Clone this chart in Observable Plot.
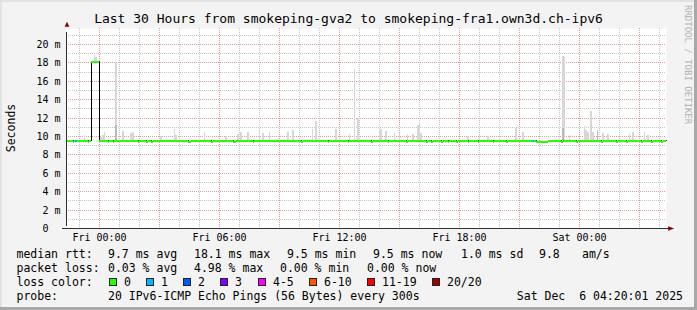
<!DOCTYPE html>
<html><head><meta charset="utf-8">
<script src="https://cdn.jsdelivr.net/npm/d3@7"></script>
<script src="https://cdn.jsdelivr.net/npm/@observablehq/plot@0.6"></script>
<style>
html,body{margin:0;padding:0;background:#f3f3f3;}
#chart{position:relative;width:697px;height:310px;background:#f3f3f3;overflow:hidden;font-family:"DejaVu Sans Mono",monospace;color:#000;}
.abs{position:absolute;white-space:pre;}
.leg{font-size:11.5px;line-height:14px;}
</style></head><body>
<div id="chart"></div>
<script>
// ---------- data ----------
const title = "Last 30 Hours from smokeping-gva2 to smokeping-fra1.own3d.ch-ipv6";
const yLabel = "Seconds";
const watermark = "RRDTOOL / TOBI OETIKER";
const rangeStart = "Thu 22:20";
const rangeEnd = "Sat 04:20";
const yMax = 21.74;
const yTicks = [0, 2, 4, 6, 8, 10, 12, 14, 16, 18, 20];
const xLabelTimes = ["Fri 00:00", "Fri 06:00", "Fri 12:00", "Fri 18:00", "Sat 00:00"];

// median RTT (ms) change points: [time, value]
const median = [
  ["Thu 22:20", 9.6], ["Thu 22:40", 9.5], ["Thu 22:45", 9.6], ["Thu 23:25", 9.5], ["Thu 23:30", 9.6],
  ["Thu 23:35", 18.1], ["Fri 00:00", 9.6], ["Fri 00:25", 9.5], ["Fri 00:30", 9.6], ["Fri 00:40", 9.5],
  ["Fri 00:45", 9.6], ["Fri 01:55", 9.5], ["Fri 02:00", 9.6], ["Fri 02:20", 9.5], ["Fri 02:25", 9.6],
  ["Fri 02:35", 9.5], ["Fri 02:40", 9.6], ["Fri 04:25", 9.5], ["Fri 04:35", 9.6], ["Fri 05:35", 9.5],
  ["Fri 05:40", 9.6], ["Fri 06:40", 9.5], ["Fri 06:50", 9.6], ["Fri 07:40", 9.5], ["Fri 07:45", 9.6],
  ["Fri 10:05", 9.5], ["Fri 10:10", 9.6], ["Fri 11:25", 9.5], ["Fri 11:30", 9.6], ["Fri 12:25", 9.5],
  ["Fri 12:30", 9.6], ["Fri 13:35", 9.5], ["Fri 13:40", 9.6], ["Fri 14:25", 9.5], ["Fri 14:30", 9.6],
  ["Fri 15:20", 9.5], ["Fri 15:25", 9.6], ["Fri 16:20", 9.5], ["Fri 16:25", 9.6], ["Fri 16:35", 9.5],
  ["Fri 16:40", 9.6], ["Fri 17:05", 9.5], ["Fri 17:10", 9.6], ["Fri 17:25", 9.5], ["Fri 17:30", 9.6],
  ["Fri 17:50", 9.5], ["Fri 17:55", 9.6], ["Fri 18:25", 9.5], ["Fri 18:30", 9.6], ["Fri 18:55", 9.5],
  ["Fri 19:00", 9.6], ["Fri 19:40", 9.5], ["Fri 19:45", 9.6], ["Fri 20:20", 9.5], ["Fri 20:25", 9.6],
  ["Fri 21:50", 9.5], ["Fri 22:25", 9.6], ["Fri 23:05", 9.5], ["Fri 23:10", 9.6], ["Fri 23:50", 9.5],
  ["Fri 23:55", 9.6], ["Sat 01:05", 9.5], ["Sat 01:10", 9.6], ["Sat 01:50", 9.5], ["Sat 01:55", 9.6],
  ["Sat 02:20", 9.5], ["Sat 02:25", 9.6], ["Sat 03:05", 9.5], ["Sat 03:10", 9.6], ["Sat 03:35", 9.5],
  ["Sat 03:40", 9.6], ["Sat 04:05", 9.5], ["Sat 04:10", 9.6]
];

// slots with packet loss: [time, loss bucket index]
const lossSlots = [["Thu 22:50", 1], ["Fri 21:40", 1]];

// smoke (ping spread, ms): [time, low, high, dense-high]
const smoke = [
  ["Thu 23:15", 9.6, 10.1], ["Thu 23:45", 18.1, 18.8], ["Thu 23:50", 18.1, 18.6],
  ["Fri 00:05", 9.6, 9.9], ["Fri 00:10", 9.6, 10.1], ["Fri 00:15", 9.6, 10.4],
  ["Fri 00:50", 9.6, 18.0, 11.2], ["Fri 01:10", 9.6, 10.5], ["Fri 01:35", 9.6, 10.3],
  ["Fri 01:40", 9.6, 10.4], ["Fri 03:05", 9.6, 10.0], ["Fri 03:45", 9.6, 10.8],
  ["Fri 03:50", 9.6, 10.1], ["Fri 05:15", 9.6, 10.4], ["Fri 06:20", 9.6, 10.0],
  ["Fri 06:55", 9.6, 10.2], ["Fri 07:05", 9.6, 10.4], ["Fri 07:25", 9.6, 10.4],
  ["Fri 08:00", 9.6, 10.5], ["Fri 08:10", 9.6, 10.3], ["Fri 08:30", 9.6, 10.4],
  ["Fri 09:25", 9.6, 10.4], ["Fri 09:40", 9.6, 10.6], ["Fri 10:40", 9.6, 10.8],
  ["Fri 10:50", 9.6, 11.6], ["Fri 11:50", 9.6, 10.8], ["Fri 12:30", 9.6, 10.2],
  ["Fri 12:45", 9.6, 17.3], ["Fri 12:55", 9.6, 12.0], ["Fri 14:00", 9.6, 10.7],
  ["Fri 14:05", 9.6, 10.8], ["Fri 14:20", 9.6, 10.5], ["Fri 14:45", 9.6, 10.3],
  ["Fri 15:00", 9.6, 10.3], ["Fri 15:25", 9.6, 10.2], ["Fri 15:40", 9.6, 10.2],
  ["Fri 15:55", 9.6, 11.2], ["Fri 16:00", 9.6, 11.4], ["Fri 16:05", 9.6, 10.3],
  ["Fri 18:25", 9.6, 10.0], ["Fri 19:00", 9.6, 10.1], ["Fri 19:25", 9.6, 10.0],
  ["Fri 20:50", 9.6, 10.9], ["Fri 21:10", 9.6, 10.4], ["Fri 23:10", 9.6, 18.7, 10.9],
  ["Fri 23:15", 9.6, 18.6], ["Fri 23:30", 9.6, 10.1], ["Sat 00:15", 9.6, 11.1],
  ["Sat 00:20", 9.6, 10.6], ["Sat 00:25", 9.6, 10.4], ["Sat 00:35", 9.6, 12.7],
  ["Sat 00:40", 9.6, 10.4], ["Sat 00:55", 9.6, 10.7, 10.5], ["Sat 01:10", 9.6, 10.3],
  ["Sat 01:25", 9.6, 10.2], ["Sat 02:30", 9.6, 10.2], ["Sat 02:40", 9.6, 10.4],
  ["Sat 03:15", 9.6, 10.4], ["Sat 03:25", 9.6, 10.1]
];

const lossLabels = ["0", "1", "2", "3", "4-5", "6-10", "11-19", "20/20"];
const lossColors = ["#26ff00", "#00b8ff", "#0059ff", "#7e00ff", "#ff00ff", "#ff5500", "#ff0000", "#a10000"];
const rowLabels = ["median rtt:", "packet loss:", "loss color:", "probe:"];
const rttStats = ["9.7 ms avg", "18.1 ms max", "9.5 ms min", "9.5 ms now", "1.0 ms sd", "9.8", "am/s"];
const lossStats = ["0.03 % avg", "4.98 % max", "0.00 % min", "0.00 % now"];
const probeText = "20 IPv6-ICMP Echo Pings (56 Bytes) every 300s";
const stamp = "Sat Dec  6 04:20:01 2025";

// ---------- helpers ----------
const dayIdx = {Thu: 4, Fri: 5, Sat: 6};
function T(s) {
  const [d, hm] = s.split(" ");
  const [h, m] = hm.split(":").map(Number);
  return new Date(Date.UTC(2025, 11, dayIdx[d], h, m));
}
const HALF = 150000; // half a 5-minute slot

const x0 = T(rangeStart), x1 = T(rangeEnd);
const hours = d3.utcHour.range(x0, x1);
const majorHours = hours.filter(d => d.getUTCHours() % 3 === 0);
const minorHours = hours.filter(d => d.getUTCHours() % 3 !== 0);
const yAll = d3.range(1, Math.floor(yMax) + 1);
const yMajor = yAll.filter(v => v % 2 === 0);
const yMinor = yAll.filter(v => v % 2 === 1);

const medPts = median.map(([t, v]) => ({t: T(t), v}));
const segs = medPts.map((d, i) => ({t0: d.t, t1: i + 1 < medPts.length ? medPts[i + 1].t : x1, v: d.v}));
const linePts = [...medPts, {t: x1, v: medPts[medPts.length - 1].v}];
const lossSegs = lossSlots.map(([t, n]) => {
  const tt = T(t);
  const s = segs.find(s => s.t0 <= tt && tt < s.t1);
  return {t0: new Date(+tt - HALF), t1: new Date(+tt + HALF), v: s.v, color: lossColors[n]};
});
const smokeRows = smoke.map(([t, lo, hi, dense]) => ({t: T(t), lo, hi, dense}));

const arrowRight = {draw(ctx, size) { const s = Math.sqrt(size) / 2; ctx.moveTo(1.4 * s, 0); ctx.lineTo(-1.3 * s, -s); ctx.lineTo(-1.3 * s, s); ctx.closePath(); }};
const arrowUp = {draw(ctx, size) { const s = Math.sqrt(size) / 2; ctx.moveTo(0, -1.2 * s); ctx.lineTo(1.1 * s, 1.0 * s); ctx.lineTo(-1.1 * s, 1.0 * s); ctx.closePath(); }};

const FONT = "DejaVu Sans Mono";
const gridGray = "#c6c6c6", gridRed = "#e69a9a";

const plot = Plot.plot({
  width: 697,
  height: 250,
  marginLeft: 66,
  marginRight: 31,
  marginTop: 28,
  marginBottom: 22,
  style: {background: "transparent", fontFamily: FONT, fontSize: "10px", overflow: "visible"},
  x: {type: "utc", domain: [x0, x1], round: true},
  y: {domain: [0, yMax], round: true},
  marks: [
    Plot.frame({fill: "white", stroke: "none"}),
    Plot.ruleX(minorHours, {stroke: gridGray, strokeDasharray: "1,1"}),
    Plot.ruleY(yMinor, {stroke: gridGray, strokeDasharray: "1,1"}),
    Plot.ruleX(majorHours, {stroke: gridRed, strokeDasharray: "1,1"}),
    Plot.ruleY(yMajor, {stroke: gridRed, strokeDasharray: "1,1"}),
    Plot.rect(smokeRows, {x1: d => new Date(+d.t - HALF), x2: d => new Date(+d.t + HALF), y1: "lo", y2: "hi", fill: "#d7d7d7"}),
    Plot.rect(smokeRows.filter(d => d.dense), {x1: d => new Date(+d.t - HALF), x2: d => new Date(+d.t + HALF), y1: "lo", y2: "dense", fill: "#b9b9b9"}),
    Plot.line(linePts, {x: "t", y: "v", curve: "step-after", stroke: "#000", strokeWidth: 1}),
    Plot.ruleY(segs, {y: "v", x1: "t0", x2: "t1", stroke: lossColors[0], strokeWidth: 2, dy: 0.5}),
    Plot.ruleY(lossSegs, {y: "v", x1: "t0", x2: "t1", stroke: "color", strokeWidth: 2, dy: 0.5}),
    Plot.ruleY([0], {x1: x0, x2: x1, stroke: "#303030", insetLeft: -4, insetRight: -3}),
    Plot.ruleX([x0], {y1: 0, y2: yMax, stroke: "#303030", insetTop: -2, insetBottom: -4}),
    Plot.dot([x1], {x: d => d, y: 0, symbol: arrowRight, r: 2.5, fill: "#900000", stroke: "none", dx: 4.5}),
    Plot.dot([x0], {x: d => d, y: yMax, symbol: arrowUp, r: 2.5, fill: "#900000", stroke: "none", dy: -4, dx: 0.5}),
    Plot.axisX(xLabelTimes.map(T), {tickSize: 0, tickPadding: 5, tickFormat: d3.utcFormat("%a %H:%M"), fontSize: 10, fontFamily: FONT, fill: "#000", label: null}),
    Plot.axisY(yTicks, {tickSize: 0, tickPadding: 6, tickFormat: d => d ? `${d} m` : "0\u00a0\u00a0", fontSize: 10, fontFamily: FONT, fill: "#000", label: null})
  ]
});

const chart = document.getElementById("chart");
const holder = document.createElement("div");
holder.className = "abs";
holder.style.left = "0px"; holder.style.top = "0px";
holder.appendChild(plot);
chart.appendChild(holder);

function addDiv(txt, cls, styles) {
  const el = document.createElement("div");
  el.className = cls;
  el.textContent = txt;
  Object.assign(el.style, styles);
  chart.appendChild(el);
  return el;
}

// title
addDiv(title, "abs", {left: "0px", width: "697px", top: "11px", textAlign: "center", fontSize: "13px", lineHeight: "15px"});
// y label
addDiv(yLabel, "abs", {left: "10.5px", top: "128px", fontSize: "11.5px", lineHeight: "14px", transform: "translate(-50%,-50%) rotate(-90deg)"});
// watermark
addDiv(watermark, "abs", {left: "682px", top: "5px", fontSize: "9px", lineHeight: "12px", writingMode: "vertical-rl", color: "#b2b2b2"});

// legend
const rowY = [254, 268, 282, 296];
const leftCol = 16.5;
rowLabels.forEach((t, i) => addDiv(t, "abs leg", {left: leftCol + "px", top: (rowY[i] - 7) + "px"}));
const rttX = [108, 194, 287, 373, 461, 539, 582];
rttStats.forEach((t, i) => addDiv(t, "abs leg", {left: rttX[i] + "px", top: (rowY[0] - 7) + "px"}));
const lossX = [108, 194, 280, 367];
lossStats.forEach((t, i) => addDiv(t, "abs leg", {left: lossX[i] + "px", top: (rowY[1] - 7) + "px"}));
const swX = [109, 146, 183, 220, 258, 309, 367, 432];
lossLabels.forEach((t, i) => {
  addDiv("", "abs", {left: swX[i] + "px", top: (rowY[2] - 4) + "px", width: "8px", height: "8px", boxSizing: "border-box", border: "1px solid #222", background: lossColors[i]});
  addDiv(t, "abs leg", {left: (swX[i] + 15) + "px", top: (rowY[2] - 7) + "px"});
});
addDiv(probeText, "abs leg", {left: "108px", top: (rowY[3] - 7) + "px"});
addDiv(stamp, "abs leg", {right: (697 - 683) + "px", top: (rowY[3] - 7) + "px"});

// 3D border shading
addDiv("", "abs", {left: "0px", top: "0px", width: "697px", height: "2px", background: "#e2e2e2"});
addDiv("", "abs", {left: "0px", top: "0px", width: "2px", height: "310px", background: "#e2e2e2"});
addDiv("", "abs", {left: "694px", top: "0px", width: "3px", height: "310px", background: "#a8a8a8"});
addDiv("", "abs", {left: "0px", top: "307px", width: "697px", height: "3px", background: "#a8a8a8"});
</script>
</body></html>
